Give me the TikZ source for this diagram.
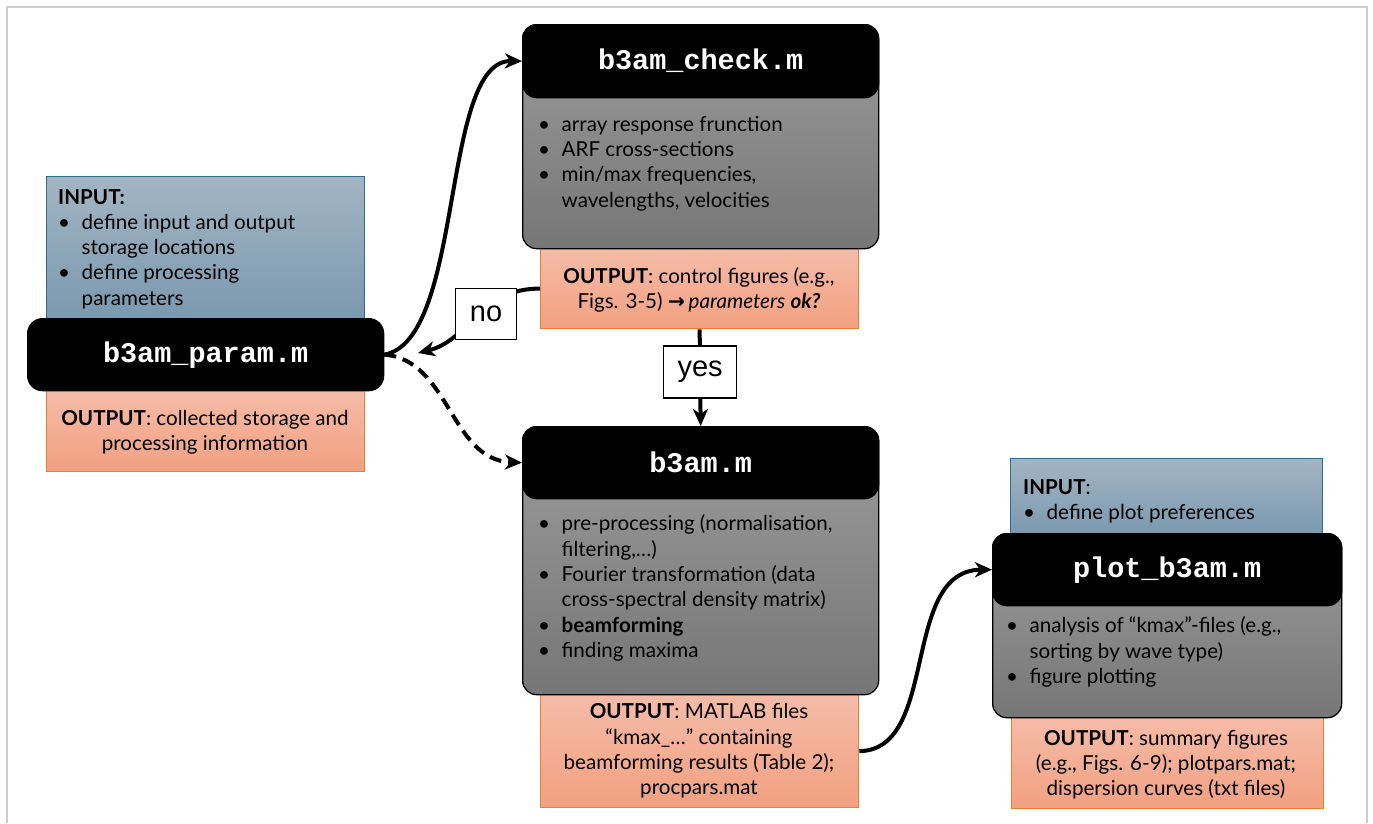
\documentclass[tikz,border=0pt]{standalone}
\usepackage{fontspec}
\setmainfont{Lato}
\newfontfamily\monob{Liberation Mono}
\newfontfamily\lsans{Liberation Sans}
\newfontfamily\dejavu{DejaVu Sans}
\usetikzlibrary{arrows.meta}
\definecolor{inT}{RGB}{163,181,195}
\definecolor{inB}{RGB}{120,151,174}
\definecolor{inD}{RGB}{46,109,143}
\definecolor{outT}{RGB}{245,188,168}
\definecolor{outB}{RGB}{242,160,128}
\definecolor{outD}{RGB}{237,125,49}
\definecolor{grT}{RGB}{156,156,156}
\definecolor{grB}{RGB}{118,118,118}
\definecolor{frameg}{RGB}{205,205,205}
\newcommand{\bl}{\makebox[23.5pt][l]{\textbullet}}
\newcommand{\ind}{\hspace*{23.5pt}}
\begin{document}
\begin{tikzpicture}[x=1pt,y=-1pt,
  inbox/.style={rectangle, draw=inD, line width=1.3pt, top color=inT, bottom color=inB, inner sep=0, anchor=north west},
  outbox/.style={rectangle, draw=outD, line width=1.3pt, top color=outT, bottom color=outB, inner sep=0, anchor=north west},
  gbox/.style={rectangle, draw=black, line width=1.3pt, rounded corners=14pt, top color=grT, bottom color=grB, inner sep=0, anchor=north west},
  hd/.style={rectangle, draw=black, fill=black, line width=1.3pt, rounded corners=14pt, text=white, inner sep=0, anchor=north west, font=\monob\bfseries\fontsize{28.5}{30}\selectfont},
  txt/.style={align=left, inner sep=0, text=black, font=\fontsize{20.6}{25.3}\selectfont},
  ctxt/.style={align=center, inner sep=0, text=black, font=\fontsize{20.6}{25.3}\selectfont},
  lbl/.style={rectangle, draw=black, line width=1.5pt, fill=white, inner sep=0, font=\lsans\fontsize{29}{30}\selectfont},
  arr/.style={line width=4pt, -{Stealth[length=17pt, width=15pt, inset=5pt]}},
  darr/.style={arr, dash pattern=on 12pt off 7pt}
]
\useasboundingbox (0,0) rectangle (1373,823);
\fill[white] (0,0) rectangle (1373,823);
\draw[frameg, line width=1.3pt] (7,823) -- (7,7) -- (1367,7) -- (1367,823);

% input and output boxes
\node[inbox, minimum width=318, minimum height=150] (pin) at (46,176) {};
\node[outbox, minimum width=318, minimum height=81] (pout) at (46,390) {};
\node[outbox, minimum width=318, minimum height=80] (cout) at (540,248) {};
\node[outbox, minimum width=318, minimum height=113] (bout) at (540,694) {};
\node[inbox, minimum width=312, minimum height=80] (plin) at (1010,458) {};
\node[outbox, minimum width=312, minimum height=91] (plout) at (1011,717) {};

% grey bodies
\node[gbox, minimum width=356, minimum height=224] (check) at (522,24) {};
\node[gbox, minimum width=356, minimum height=268] (b3am) at (522,426) {};
\node[gbox, minimum width=349, minimum height=184] (plot) at (992,533) {};

% headers
\node[hd, minimum width=356, minimum height=72, rounded corners=15pt] (param) at (27,318) {b3am\_param.m};
\node[hd, minimum width=356, minimum height=73] (checkhd) at (522,24) {b3am\_check.m};
\node[hd, minimum width=356, minimum height=72] (b3amhd) at (522,426) {b3am.m};
\node[hd, minimum width=349, minimum height=72] (plothd) at (992,533) {plot\_b3am.m};

% texts
\node[txt, anchor=west] (pint) at (58,249) {\textbf{INPUT:}\\ \bl define input and output\\ \ind storage locations\\ \bl define processing\\ \ind parameters};
\node[ctxt] (poutt) at (205,432) {\textbf{OUTPUT}: collected storage and\\processing information};
\node[txt, anchor=west] (checkt) at (538,163.5) {\bl array response frunction\\ \bl ARF cross-sections\\ \bl min/max frequencies,\\ \ind wavelengths, velocities};
\node[ctxt] (coutt) at (699,290) {\textbf{OUTPUT}: control figures (e.g.,\\ Figs. 3-5) {\dejavu\bfseries →}\,\textit{parameters} \textbf{\textit{ok?}}};
\node[txt, anchor=west] (b3amt) at (538,588) {\bl pre-processing (normalisation,\\ \ind filtering,…)\\ \bl Fourier transformation (data\\ \ind cross-spectral density matrix)\\ \bl \textbf{beamforming}\\ \bl finding maxima};
\node[ctxt] (boutt) at (699,751) {\textbf{OUTPUT}: MATLAB files\\ “kmax\_…” containing\\ beamforming results (Table 2);\\ procpars.mat};
\node[txt, anchor=west] (plint) at (1023,501) {\textbf{INPUT}:\\ \bl define plot preferences};
\node[txt, anchor=west] (plott) at (1006,652) {\bl analysis of “kmax”-files (e.g.,\\ \ind sorting by wave type)\\ \bl figure plotting};
\node[ctxt] (ploutt) at (1166,764.5) {\textbf{OUTPUT}: summary figures\\ (e.g., Figs. 6-9); plotpars.mat;\\ dispersion curves (txt files)};

% connectors
\coordinate (noend) at (418,353);
\draw[arr] (param.east) .. controls (465,340) and (440,60) .. (checkhd.west);
\draw[arr] (cout.west) .. controls (480,288) and (470,340) .. (noend);
\node[lbl, minimum width=61, minimum height=51] (no) at (486,314) {no};
\draw[darr] (param.east) .. controls (450,360) and (450,460) .. (b3amhd.west);
\draw[arr] (cout.south) -- (b3am.north) node[lbl, pos=0.44, minimum width=73, minimum height=52] (yes) {yes};
\draw[arr] (bout.east) .. controls (940,750) and (900,570) .. (plothd.west);
\end{tikzpicture}
\end{document}
